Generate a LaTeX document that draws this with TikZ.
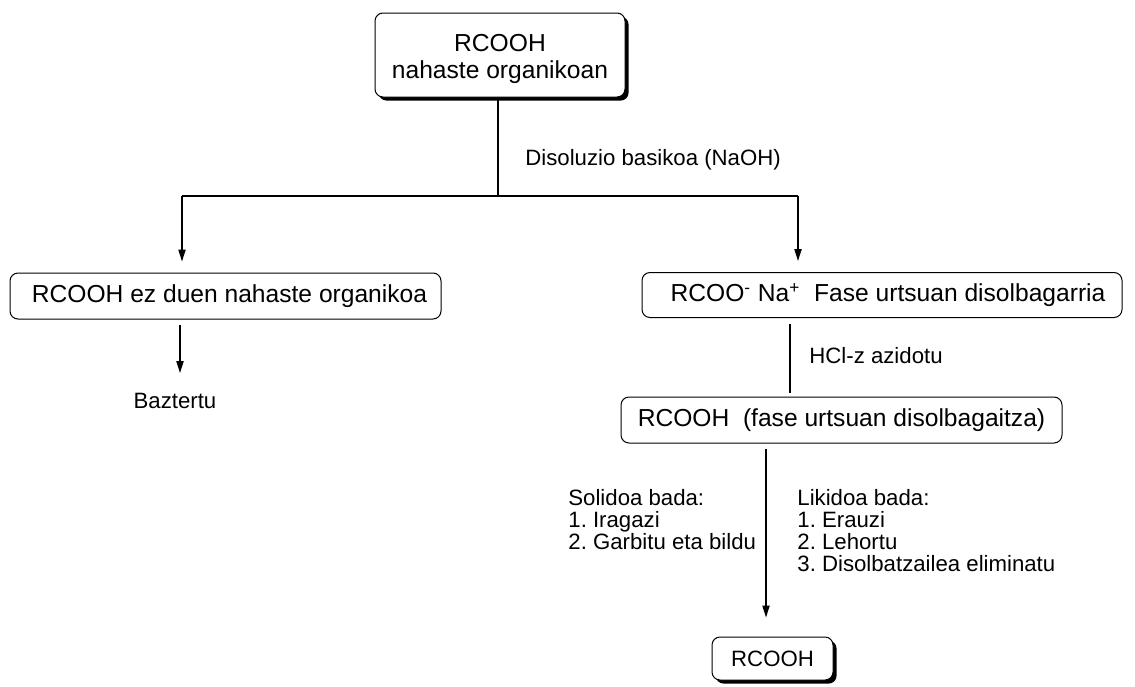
\documentclass[tikz,border=0pt]{standalone}
\usepackage{fontspec}
\setmainfont{Liberation Sans}
\usetikzlibrary{arrows.meta,shadows}
\frenchspacing
\begin{document}
\begin{tikzpicture}[x=0.5pt,y=-0.5pt,
  boxfont/.style={font=\fontsize{12.3}{13.5}\selectfont},
  lblfont/.style={font=\fontsize{11.1}{11}\selectfont},
  flowbox/.style={draw, line width=0.5pt, rounded corners=4pt, fill=white, inner sep=0pt, boxfont, align=center},
  shadowbox/.style={flowbox, drop shadow={shadow xshift=1.8pt, shadow yshift=-1.8pt, opacity=1, fill=black}},
  conn/.style={line width=0.75pt},
  arr/.style={conn, -{Triangle[length=6pt,width=3.6pt]}},
  lbl/.style={lblfont, inner sep=0pt, align=left, anchor=west}]
\useasboundingbox (0,0) rectangle (1135,686);
% boxes
\node[shadowbox, minimum width=125pt, minimum height=42pt] (top) at (500,55) {\raisebox{-2.5pt}[\height][\depth]{\begin{tabular}{@{}c@{}}RCOOH\\nahaste organikoan\end{tabular}}};
\node[flowbox, minimum width=215.5pt, minimum height=23pt] (lbox) at (225.5,296) {\hspace{4pt}RCOOH ez duen nahaste organikoa};
\node[flowbox, minimum width=240pt, minimum height=22.5pt] (rbox) at (882,295) {\hspace{6pt}RCOO\textsuperscript{-} Na\textsuperscript{+}\ \ Fase urtsuan disolbagarria};
\node[flowbox, minimum width=220.5pt, minimum height=23pt] (mbox) at (841.5,420) {RCOOH\ \ (fase urtsuan disolbagaitza)};
\node[shadowbox, minimum width=60.5pt, minimum height=21.5pt, font=\fontsize{11.1}{13}\selectfont] (bbox) at (772.5,658.5) {RCOOH};
% labels
\node[lblfont, inner sep=0pt] (baz) at (175,401) {Baztertu};
\node[lbl] (naoh) at (525,160) {Disoluzio basikoa (NaOH)};
\node[lbl] (hcl) at (809,356) {HCl-z azidotu};
\node[lbl, anchor=north west] (sol) at (568,489) {Solidoa bada:\\1. Iragazi\\2. Garbitu eta bildu};
\node[lbl, anchor=north west] (lik) at (797,489) {Likidoa bada:\\1. Erauzi\\2. Lehortu\\3. Disolbatzailea eliminatu};
% connectors
\coordinate (jl) at (182,196);
\coordinate (jr) at (798,196);
\coordinate (jm) at (498,196);
\coordinate (a1) at (180,373);
\coordinate (hx) at (790,0);
\coordinate (mx) at (766,0);
\draw[conn] (top.south -| jm) -- (jm);
\draw[conn] (jl) -- (jr);
\draw[arr, shorten >=5.5pt] (jl) -- (jl |- lbox.north);
\draw[arr, shorten >=5.5pt] (jr) -- (jr |- rbox.north);
\draw[arr, shorten <=2.5pt] (lbox.south -| a1) -- (a1);
\draw[conn, shorten <=3pt, shorten >=2pt] (rbox.south -| hx) -- (mbox.north -| hx);
\draw[arr, shorten <=2.5pt, shorten >=9.5pt] (mbox.south -| mx) -- (bbox.north -| mx);
\end{tikzpicture}
\end{document}
